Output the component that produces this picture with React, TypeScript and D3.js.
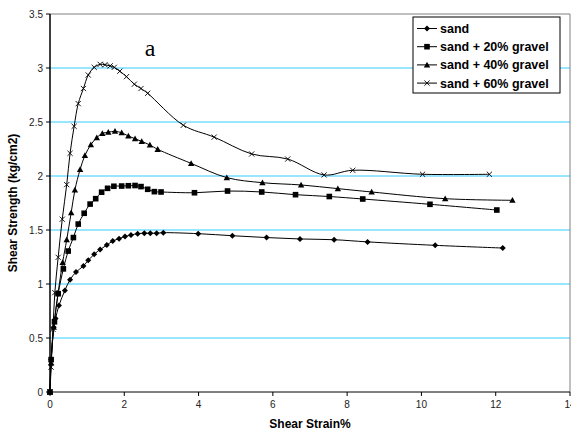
import React from "react";
import * as d3 from "d3";

type P = [number, number];

const sand: P[] = [
  [0, 0], [0.03, 0.3], [0.1, 0.6], [0.15, 0.68], [0.24, 0.8], [0.4, 0.94], [0.54, 1.04],
  [0.7, 1.11], [0.9, 1.167], [1.03, 1.22], [1.19, 1.275], [1.35, 1.32], [1.53, 1.36],
  [1.69, 1.398], [1.86, 1.42], [2.02, 1.44], [2.18, 1.453], [2.36, 1.466], [2.54, 1.47],
  [2.7, 1.47], [2.87, 1.47], [3.05, 1.475], [3.99, 1.466], [4.91, 1.447], [5.83, 1.43],
  [6.73, 1.417], [7.65, 1.41], [8.55, 1.39], [10.37, 1.358], [12.19, 1.333],
];

const gravel20: P[] = [
  [0, 0], [0.03, 0.3], [0.12, 0.65], [0.22, 0.91], [0.36, 1.14], [0.49, 1.305], [0.63, 1.43],
  [0.76, 1.555], [0.92, 1.655], [1.08, 1.74], [1.23, 1.79], [1.39, 1.85], [1.55, 1.886],
  [1.72, 1.905], [1.93, 1.907], [2.11, 1.91], [2.29, 1.912], [2.45, 1.902], [2.63, 1.877],
  [2.81, 1.855], [2.99, 1.852], [3.89, 1.845], [4.78, 1.861], [5.7, 1.852], [6.61, 1.827],
  [7.52, 1.81], [8.42, 1.787], [10.23, 1.738], [12.03, 1.685],
];

const gravel40: P[] = [
  [0, 0], [0.03, 0.27], [0.1, 0.6], [0.22, 0.92], [0.34, 1.2], [0.45, 1.41], [0.57, 1.66],
  [0.67, 1.87], [0.81, 2.06], [0.94, 2.19], [1.1, 2.29], [1.26, 2.355], [1.41, 2.395],
  [1.57, 2.405], [1.75, 2.414], [1.93, 2.4], [2.11, 2.37], [2.29, 2.345], [2.47, 2.32],
  [2.69, 2.287], [2.9, 2.247], [3.8, 2.117], [4.76, 1.985], [5.72, 1.938], [6.76, 1.917],
  [7.75, 1.883], [8.66, 1.852], [10.64, 1.79], [12.45, 1.775],
];

const gravel60: P[] = [
  [0, 0], [0.03, 0.23], [0.08, 0.58], [0.13, 0.92], [0.22, 1.247], [0.33, 1.6], [0.45, 1.92],
  [0.54, 2.21], [0.65, 2.46], [0.76, 2.67], [0.9, 2.81], [1.03, 2.935], [1.19, 3.006],
  [1.35, 3.034], [1.48, 3.03], [1.62, 3.02], [1.73, 3.006], [1.88, 2.97], [2.06, 2.92],
  [2.27, 2.85], [2.45, 2.81], [2.63, 2.766], [3.59, 2.47], [4.42, 2.36], [5.43, 2.204],
  [6.4, 2.157], [7.38, 2.01], [8.15, 2.053], [10.03, 2.016], [11.83, 2.016],
];

const seriesNames = ["sand", "sand + 20% gravel", "sand + 40% gravel", "sand + 60% gravel"];
const seriesData = [sand, gravel20, gravel40, gravel60];
const markerKinds = ["diamond", "square", "triangle", "cross"];

const xTicks = [0, 2, 4, 6, 8, 10, 12, 14];
const yTicks = [0, 0.5, 1, 1.5, 2, 2.5, 3, 3.5];

const W = 571;
const H = 435;
const left = 50;
const right = 570;
const top = 14;
const bottom = 392;

function Marker({ kind, x, y }: { kind: string; x: number; y: number }) {
  if (kind === "diamond") {
    const s = 3;
    return <path d={`M${x},${y - s}L${x + s},${y}L${x},${y + s}L${x - s},${y}Z`} fill="#000" />;
  }
  if (kind === "square") {
    const s = 2.8;
    return <rect x={x - s} y={y - s} width={2 * s} height={2 * s} fill="#000" />;
  }
  if (kind === "triangle") {
    const s = 3.2;
    return <path d={`M${x},${y - s}L${x + s},${y + s * 0.8}L${x - s},${y + s * 0.8}Z`} fill="#000" />;
  }
  const s = 2.6;
  return (
    <path
      d={`M${x - s},${y - s}L${x + s},${y + s}M${x + s},${y - s}L${x - s},${y + s}`}
      stroke="#000"
      strokeWidth={0.9}
      fill="none"
    />
  );
}

export default function App() {
  const x = d3.scaleLinear().domain([0, 14]).range([left, right]);
  const y = d3.scaleLinear().domain([0, 3.5]).range([bottom, top]);
  const line = d3
    .line<P>()
    .x((d) => x(d[0]))
    .y((d) => y(d[1]))
    .curve(d3.curveCatmullRom.alpha(0.5));

  const font = "Arial, 'Liberation Sans', Helvetica, sans-serif";

  const legX = 413;
  const legY = 17;
  const legW = 147;
  const legH = 76;
  const rowY = (i: number) => legY + 11.5 + i * 18.2;

  return (
    <svg
      width={W}
      height={H}
      style={{ position: "absolute", left: 0, top: 0, background: "#fff" }}
      fontFamily={font}
    >
      <rect x={0} y={0} width={W} height={H} fill="#fff" />
      {yTicks.slice(1, -1).map((t) => (
        <line key={t} x1={left} x2={right} y1={y(t)} y2={y(t)} stroke="#33ccff" strokeWidth={1} />
      ))}
      <line x1={left} x2={right} y1={top} y2={top} stroke="#808080" strokeWidth={1} />
      <line x1={right} x2={right} y1={top} y2={bottom} stroke="#808080" strokeWidth={1} />
      <line x1={left} x2={left} y1={top} y2={bottom} stroke="#000" strokeWidth={1.5} />
      <line x1={left} x2={right} y1={bottom} y2={bottom} stroke="#000" strokeWidth={1} />
      {yTicks.map((t) => (
        <g key={t}>
          <line x1={left - 4} x2={left} y1={y(t)} y2={y(t)} stroke="#000" />
          <text x={left - 7} y={y(t) + 3.5} textAnchor="end" fontSize={10} fill="#222">
            {String(t)}
          </text>
        </g>
      ))}
      {xTicks.map((t) => (
        <g key={t}>
          <line x1={x(t)} x2={x(t)} y1={bottom} y2={bottom + 4} stroke="#000" />
          <text x={x(t)} y={bottom + 16} textAnchor="middle" fontSize={10} fill="#222">
            {String(t)}
          </text>
        </g>
      ))}
      <text x={310} y={428} textAnchor="middle" fontSize={12} fontWeight="bold" fill="#000">
        Shear Strain%
      </text>
      <text
        transform={`translate(17,${(top + bottom) / 2}) rotate(-90)`}
        textAnchor="middle"
        fontSize={12}
        fontWeight="bold"
        fill="#000"
      >
        Shear Strength (kg/cm2)
      </text>
      <text x={150} y={56} textAnchor="middle" fontSize={24} fontFamily="'Liberation Serif', 'DejaVu Serif', serif">
        a
      </text>
      {seriesData.map((data, i) => (
        <g key={i}>
          <path d={line(data) || ""} fill="none" stroke="#000" strokeWidth={1} />
          {data.map((d, j) => (
            <Marker key={j} kind={markerKinds[i]} x={x(d[0])} y={y(d[1])} />
          ))}
        </g>
      ))}
      <rect x={legX} y={legY} width={legW} height={legH} fill="#fff" stroke="#000" strokeWidth={1} />
      {seriesNames.map((name, i) => (
        <g key={name}>
          <line x1={legX + 4} x2={legX + 24} y1={rowY(i)} y2={rowY(i)} stroke="#000" />
          <Marker kind={markerKinds[i]} x={legX + 14} y={rowY(i)} />
          <text x={legX + 27} y={rowY(i) + 4.5} fontSize={12.5} fontWeight="bold" fill="#000">
            {name}
          </text>
        </g>
      ))}
    </svg>
  );
}
